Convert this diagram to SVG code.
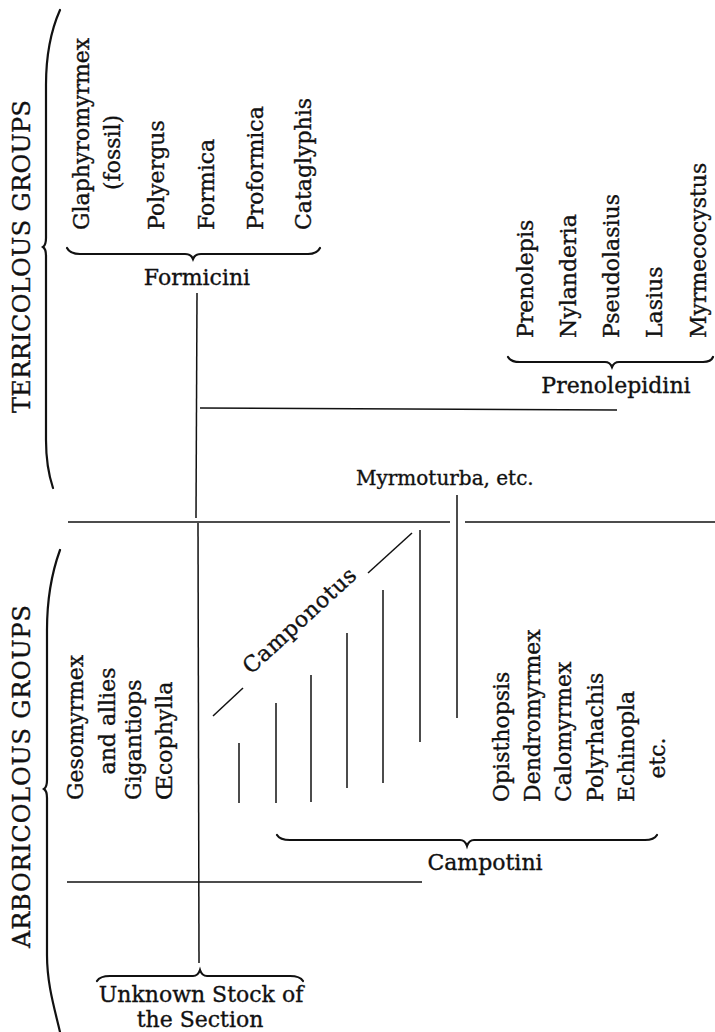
<svg xmlns="http://www.w3.org/2000/svg" width="715" height="1032" viewBox="0 0 715 1032">
<style>
.t{font-family:"DejaVu Serif","Liberation Serif",serif;font-size:22px;fill:#111;stroke:#111;stroke-width:0.35}
.c{text-anchor:middle}
.g{font-size:24px}
.ln{stroke:#111;stroke-width:1.5;fill:none}
.br{stroke:#111;stroke-width:2.2;fill:none;stroke-linecap:round}
</style>
<rect width="715" height="1032" fill="#fff"/>
<g id="connectors">
<path class="br" d="M60,10 C52,28 46,55 46,85 L46,238 Q46,245 43,247 Q46,249 46,256 L46,440 C46,462 49,476 53,488"/>
<path class="br" d="M60,550 C52,572 47,600 47,630 L47,780 Q47,787 44,789 Q47,791 47,798 L47,955 C47,985 55,1010 60,1032"/>
<path class="br" d="M67,248 Q70,254 80,254 L185,254 Q191,254 193,259 Q195,254 201,254 L308,254 Q317,254 320,248"/>
<path class="br" d="M508,357 Q511,362 520,362 L605,362 Q610,362 612,367 Q614,362 619,362 L703,362 Q711,362 713,357"/>
<path class="br" d="M277,835 Q280,840 290,840 L460,840 Q465,840 467,846 Q469,840 474,840 L645,840 Q654,840 657,835"/>
<path class="br" d="M97,981 Q100,976 110,976 L193,976 Q198,976 200,970 Q202,976 207,976 L290,976 Q300,976 303,981"/>
<line class="ln" x1="197" y1="293" x2="196" y2="518"/>
<line class="ln" x1="200" y1="408" x2="617" y2="410"/>
<line class="ln" x1="68" y1="522" x2="450" y2="522"/>
<line class="ln" x1="465" y1="522" x2="715" y2="522"/>
<line class="ln" x1="198" y1="523" x2="199" y2="963"/>
<line class="ln" x1="67" y1="882" x2="422" y2="882"/>
<line class="ln" x1="457" y1="495" x2="457" y2="718"/>
<line class="ln" x1="213" y1="716" x2="243" y2="688"/>
<line class="ln" x1="368" y1="573" x2="412" y2="533"/>
<line class="ln" x1="239" y1="743" x2="239" y2="803"/>
<line class="ln" x1="276" y1="703" x2="276" y2="803"/>
<line class="ln" x1="311" y1="675" x2="311" y2="802"/>
<line class="ln" x1="347" y1="633" x2="347" y2="788"/>
<line class="ln" x1="383" y1="590" x2="383" y2="783"/>
<line class="ln" x1="420" y1="530" x2="420" y2="742"/>
</g>
<g id="terricolous"><text class="t g" transform="translate(30,413) rotate(-90)" textLength="313" lengthAdjust="spacing">TERRICOLOUS GROUPS</text></g>
<g id="arboricolous"><text class="t g" transform="translate(30,948) rotate(-90)" textLength="343" lengthAdjust="spacing">ARBORICOLOUS GROUPS</text></g>
<g id="formicini-genera">
<text class="t" transform="translate(89,230) rotate(-90)">Glaphyromyrmex</text>
<text class="t" transform="translate(120,190) rotate(-90)">(fossil)</text>
<text class="t" transform="translate(164,230) rotate(-90)">Polyergus</text>
<text class="t" transform="translate(214,230) rotate(-90)">Formica</text>
<text class="t" transform="translate(263,230) rotate(-90)">Proformica</text>
<text class="t" transform="translate(311,230) rotate(-90)">Cataglyphis</text>
</g>
<g id="formicini"><text class="t c" x="197" y="285">Formicini</text></g>
<g id="prenolepidini-genera">
<text class="t" transform="translate(533,338) rotate(-90)">Prenolepis</text>
<text class="t" transform="translate(576,338) rotate(-90)">Nylanderia</text>
<text class="t" transform="translate(619,338) rotate(-90)">Pseudolasius</text>
<text class="t" transform="translate(662,338) rotate(-90)">Lasius</text>
<text class="t" transform="translate(706,338) rotate(-90)">Myrmecocystus</text>
</g>
<g id="prenolepidini"><text class="t c" x="616" y="393">Prenolepidini</text></g>
<g id="myrmoturba"><text class="t" x="356" y="485" style="font-size:20px">Myrmoturba, etc.</text></g>
<g id="camponotus"><text class="t" transform="translate(251,675) rotate(-42.5)" textLength="145" lengthAdjust="spacing">Camponotus</text></g>
<g id="gesomyrmex-group">
<text class="t" transform="translate(83,800) rotate(-90)">Gesomyrmex</text>
<text class="t c" transform="translate(115,721) rotate(-90)">and allies</text>
<text class="t" transform="translate(141,800) rotate(-90)">Gigantiops</text>
<text class="t" transform="translate(172,800) rotate(-90)">Œcophylla</text>
</g>
<g id="campotini-genera">
<text class="t" transform="translate(509,802) rotate(-90)">Opisthopsis</text>
<text class="t" transform="translate(540,802) rotate(-90)">Dendromyrmex</text>
<text class="t" transform="translate(571,802) rotate(-90)">Calomyrmex</text>
<text class="t" transform="translate(603,802) rotate(-90)">Polyrhachis</text>
<text class="t" transform="translate(634,802) rotate(-90)">Echinopla</text>
<text class="t c" transform="translate(665,758) rotate(-90)">etc.</text>
</g>
<g id="campotini"><text class="t c" x="485" y="870">Campotini</text></g>
<g id="unknown-stock">
<text class="t c" x="201" y="1002">Unknown Stock of</text>
<text class="t c" x="200" y="1027">the Section</text>
</g>
</svg>
